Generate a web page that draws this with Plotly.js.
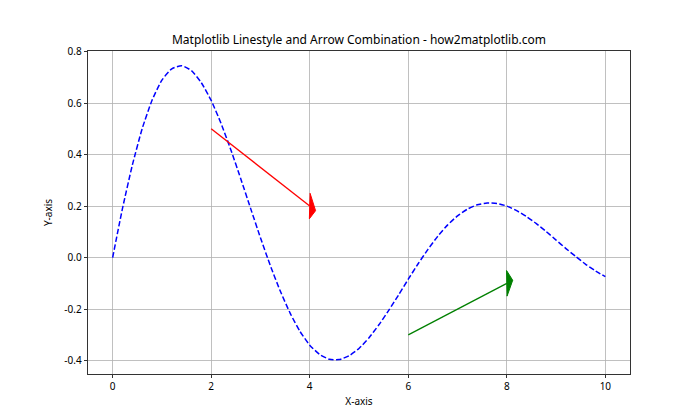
<!DOCTYPE html>
<html>
<head>
<meta charset="utf-8">
<script src="https://cdn.plot.ly/plotly-3.0.1.min.js"></script>
<style>html,body{margin:0;padding:0;background:#fff;}#chart{width:700px;height:420px;}</style>
</head>
<body>
<div id="chart"></div>
<script>
// Curve samples (x step 0.2)
const curveX = [0,0.2,0.4,0.6,0.8,1.0,1.2,1.4,1.6,1.8,2.0,2.2,2.4,2.6,2.8,3.0,3.2,3.4,3.6,3.8,4.0,4.2,4.4,4.6,4.8,5.0,5.2,5.4,5.6,5.8,6.0,6.2,6.4,6.6,6.8,7.0,7.2,7.4,7.6,7.8,8.0,8.2,8.4,8.6,8.8,9.0,9.2,9.4,9.6,9.8,10.0];
const curveY = [0,0.191,0.359,0.501,0.611,0.689,0.733,0.745,0.726,0.679,0.610,0.521,0.418,0.306,0.191,0.077,-0.031,-0.129,-0.215,-0.286,-0.340,-0.376,-0.395,-0.396,-0.381,-0.353,-0.312,-0.262,-0.206,-0.146,-0.084,-0.024,0.032,0.083,0.127,0.162,0.188,0.205,0.212,0.210,0.200,0.182,0.159,0.132,0.101,0.068,0.035,0.004,-0.026,-0.052,-0.074];

// Arrows: start point and displacement
const arrowX = [2, 6];
const arrowY = [0.5, -0.3];
const arrowDX = [2, 2];
const arrowDY = [-0.3, 0.2];
const arrowColors = ['#ff0000', '#008000'];
const headWidth = 0.1;
const headLength = 0.12;

const xTicks = [0, 2, 4, 6, 8, 10];
const yTicks = [-0.4, -0.2, 0.0, 0.2, 0.4, 0.6, 0.8];
const yTickLabels = ['-0.4', '-0.2', '0.0', '0.2', '0.4', '0.6', '0.8'];

const FONT = 'Noto Sans, Open Sans, DejaVu Sans, sans-serif';

const traces = [{
  x: curveX, y: curveY, type: 'scatter', mode: 'lines',
  line: {color: '#0000ff', width: 1.5, dash: '5.5px,2.4px', shape: 'spline', smoothing: 0.5},
  hoverinfo: 'skip', showlegend: false
}];

for (let i = 0; i < arrowX.length; i++) {
  const x0 = arrowX[i], y0 = arrowY[i];
  const x1 = x0 + arrowDX[i], y1 = y0 + arrowDY[i];
  const len = Math.hypot(arrowDX[i], arrowDY[i]);
  const ux = arrowDX[i] / len, uy = arrowDY[i] / len;
  const px = -uy * headWidth / 2, py = ux * headWidth / 2;
  traces.push({
    x: [x0, x1], y: [y0, y1], type: 'scatter', mode: 'lines',
    line: {color: arrowColors[i], width: 1.3}, hoverinfo: 'skip', showlegend: false
  });
  traces.push({
    x: [x1 + px, x1 + ux * headLength, x1 - px, x1 + px],
    y: [y1 + py, y1 + uy * headLength, y1 - py, y1 + py],
    type: 'scatter', mode: 'lines', fill: 'toself', fillcolor: arrowColors[i],
    line: {color: arrowColors[i], width: 1}, hoverinfo: 'skip', showlegend: false
  });
}

const axisCommon = {
  showgrid: true, gridcolor: '#b0b0b0', gridwidth: 0.8,
  showline: true, linecolor: '#000', linewidth: 0.8, mirror: true,
  ticks: 'outside', ticklen: 3.5, tickwidth: 0.8, tickcolor: '#000',
  zeroline: false, tickfont: {family: FONT, size: 10, color: '#000'}
};

const layout = {
  width: 700, height: 420,
  margin: {l: 88, r: 70, t: 51, b: 46},
  paper_bgcolor: '#fff', plot_bgcolor: '#fff',
  title: {text: 'Matplotlib Linestyle and Arrow Combination - how2matplotlib.com',
          font: {family: FONT, size: 12, color: '#000'},
          xref: 'paper', x: 0.5, xanchor: 'center', yref: 'container', y: 1 - 40/420, yanchor: 'middle'},
  xaxis: Object.assign({}, axisCommon, {
    range: [-0.5, 10.5], tickvals: xTicks,
    title: {text: 'X-axis', font: {family: FONT, size: 10, color: '#000'}, standoff: 5}
  }),
  yaxis: Object.assign({}, axisCommon, {
    range: [-0.452, 0.802], tickvals: yTicks, ticktext: yTickLabels,
    title: {text: 'Y-axis', font: {family: FONT, size: 10, color: '#000'}, standoff: 9}
  }),
  showlegend: false
};

Plotly.newPlot('chart', traces, layout, {staticPlot: true, displayModeBar: false});
</script>
</body>
</html>
